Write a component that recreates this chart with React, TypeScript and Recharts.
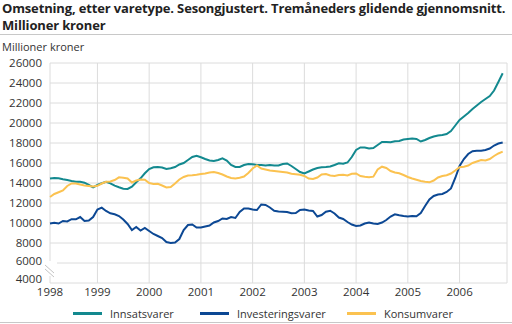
import { LineChart, Line, XAxis, YAxis, CartesianGrid } from "recharts";

// Omsetning, monthly Feb 1998 - Nov 2006, million NOK (three-month moving average)
const seriesNames = ["Innsatsvarer", "Investeringsvarer", "Konsumvarer"];
const seriesColors = ["#13898f", "#0c4894", "#fbc250"];

const innsatsvarer = [
  14450, 14500, 14470, 14380, 14300, 14200, 14130, 14130, 14030, 13800, 13570,
  13800, 13970, 14130, 13970, 13730, 13570, 13430, 13400, 13630, 14070, 14470, 14970,
  15400, 15570, 15600, 15550, 15400, 15470, 15600, 15850, 16000, 16300, 16600, 16730,
  16570, 16400, 16250, 16200, 16300, 16470, 16250, 15800, 15600, 15600, 15800, 15900,
  15870, 15800, 15800, 15750, 15800, 15750, 15750, 15900, 15950, 15700, 15400, 15100,
  14950, 15150, 15350, 15500, 15580, 15600, 15650, 15800, 15970, 15920, 16050, 16600,
  17300, 17550, 17550, 17450, 17500, 17800, 18100, 18100, 18070, 18180, 18200, 18350,
  18400, 18450, 18400, 18150, 18300, 18500, 18650, 18750, 18800, 18900, 19200, 19750,
  20300, 20650, 21000, 21400, 21750, 22100, 22400, 22700, 23250, 24100, 24970,
];

const investeringsvarer = [
  9950, 10030, 9950, 10200, 10150, 10380, 10370, 10600, 10200, 10250, 10600,
  11350, 11530, 11200, 10970, 10870, 10700, 10350, 9900, 9300, 9600, 9250, 9500,
  9200, 8900, 8700, 8500, 8100, 8000, 8050, 8400, 9300, 9800, 9850, 9550,
  9550, 9650, 9750, 10050, 10200, 10450, 10400, 10600, 10500, 11100, 11450, 11450,
  11350, 11300, 11850, 11800, 11550, 11230, 11150, 11130, 11100, 10970, 11000, 11300,
  11350, 11250, 11200, 10650, 10800, 11130, 11230, 10950, 10550, 10400, 10100, 9850,
  9700, 9750, 9950, 10050, 9950, 9900, 10050, 10300, 10650, 10870, 10780, 10700,
  10650, 10700, 10680, 11000, 11700, 12350, 12700, 12850, 12900, 13100, 13450, 14500,
  15700, 16400, 16900, 17180, 17230, 17230, 17300, 17450, 17750, 17950, 18050,
];

const konsumvarer = [
  12600, 12900, 13070, 13250, 13700, 13950, 13950, 13850, 13750, 13700, 13650,
  13720, 13950, 14120, 14150, 14300, 14570, 14520, 14450, 14050, 14250, 14350, 14320,
  14000, 13900, 13920, 13750, 13550, 13600, 13950, 14350, 14600, 14750, 14780, 14830,
  14900, 14950, 15050, 15100, 15000, 14850, 14650, 14500, 14450, 14530, 14650, 15000,
  15450, 15750, 15450, 15350, 15250, 15200, 15150, 15100, 15050, 14920, 14870, 14820,
  14700, 14450, 14400, 14550, 14850, 14900, 14750, 14700, 14800, 14820, 14750, 14920,
  14950, 14700, 14620, 14570, 14630, 15350, 15630, 15500, 15200, 15050, 14970, 14800,
  14600, 14450, 14320, 14200, 14130, 14070, 14250, 14550, 14700, 14780, 14950, 15250,
  15570, 15630, 15750, 16000, 16150, 16300, 16250, 16400, 16700, 16950, 17130,
];

const yearLabels = [1998, 1999, 2000, 2001, 2002, 2003, 2004, 2005, 2006];
const yTicks = [4000, 6000, 8000, 10000, 12000, 14000, 16000, 18000, 20000, 22000, 24000, 26000];

// month index: 0 = Jan 1998, first observation is Feb 1998
const firstMonth = 1;
const data = innsatsvarer.map((v, i) => ({
  m: firstMonth + i,
  innsats: v,
  invest: investeringsvarer[i],
  konsum: konsumvarer[i],
}));
const lastMonth = firstMonth + data.length;
const yearTicks = yearLabels.map((y) => Math.max(firstMonth, (y - 1998) * 12));
const monthTicks = data.map((d) => d.m).concat([lastMonth]);
const keys = ["innsats", "invest", "konsum"];
const legendLeft = [73, 200, 347];

const font = "'Open Sans', 'Noto Sans', sans-serif";
const text = "#333";

// labels near the axis break sit a little higher than their gridline
const YTick = (props: any) => {
  const { x, y, payload } = props;
  const shift = payload.value === 4000 ? -4 : payload.value === 6000 ? -2 : 0;
  return (
    <text x={x} y={y + shift} dy="0.355em" textAnchor="end" fontSize={11.5} fill={text} fontFamily={font}>
      {payload.value}
    </text>
  );
};

export default function App() {
  return (
    <div
      style={{
        position: "absolute",
        left: 0,
        top: 0,
        width: 512,
        height: 324,
        background: "#fff",
        fontFamily: font,
        color: "#222",
        overflow: "hidden",
      }}
    >
      <div style={{ position: "absolute", left: 2, top: 0, fontSize: 13, fontWeight: 700, lineHeight: "17px", letterSpacing: -0.15, whiteSpace: "nowrap" }}>
        Omsetning, etter varetype. Sesongjustert. Tremåneders glidende gjennomsnitt.
        <br />
        Millioner kroner
      </div>
      <div style={{ position: "absolute", left: 0, top: 34, width: 512, height: 1, background: "#c8c8c8" }} />
      <div style={{ position: "absolute", left: 2, top: 39, fontSize: 11, color: text }}>Millioner kroner</div>

      <LineChart
        width={512}
        height={324}
        data={data}
        margin={{ top: 63, right: 5, bottom: 21, left: 0 }}
        style={{ position: "absolute", left: 0, top: 0 }}
      >
        <CartesianGrid stroke="#dcdcdc" strokeWidth={1} />
        <XAxis
          dataKey="m"
          type="number"
          domain={[firstMonth, lastMonth]}
          ticks={yearTicks}
          tickFormatter={(v: number) => String(v <= firstMonth ? 1998 : 1998 + v / 12)}
          tick={{ fontSize: 11.5, fill: text, fontFamily: font }}
          tickLine={false}
          axisLine={false}
          tickSize={3}
          tickMargin={2}
          height={20}
          interval={0}
        />
        <XAxis
          xAxisId="minor"
          dataKey="m"
          type="number"
          domain={[firstMonth, lastMonth]}
          ticks={monthTicks}
          tickFormatter={() => ""}
          tickLine={{ stroke: "#c4c4c4" }}
          tickSize={-5}
          axisLine={false}
          height={0}
          interval={0}
        />
        <YAxis
          type="number"
          domain={[4000, 26000]}
          ticks={yTicks}
          interval={0}
          width={50}
          tickLine={false}
          axisLine={false}
          tick={<YTick />}
        />
        {keys.map((k, i) => (
          <Line
            key={k}
            dataKey={k}
            name={seriesNames[i]}
            type="linear"
            stroke={seriesColors[i]}
            strokeWidth={2}
            dot={false}
            isAnimationActive={false}
          />
        ))}
      </LineChart>

      {/* axis break marker */}
      <svg style={{ position: "absolute", left: 0, top: 0 }} width={512} height={324}>
        <rect x={44} y={261} width={13} height={15} fill="#fff" />
        <line x1={45} y1={265} x2={54} y2={273} stroke="#c4c4c4" strokeWidth={1} />
        <line x1={45} y1={269} x2={54} y2={277} stroke="#c4c4c4" strokeWidth={1} />
      </svg>

      {seriesNames.map((n, i) => (
        <div
          key={n}
          style={{
            position: "absolute",
            left: legendLeft[i],
            top: 306,
            display: "flex",
            alignItems: "center",
            fontSize: 11,
            color: text,
            whiteSpace: "nowrap",
          }}
        >
          <span style={{ display: "inline-block", width: 29, height: 3, background: seriesColors[i], marginRight: 8 }} />
          {n}
        </div>
      ))}
      <div style={{ position: "absolute", left: 0, top: 322, width: 512, height: 1, background: "#c8c8c8" }} />
    </div>
  );
}
